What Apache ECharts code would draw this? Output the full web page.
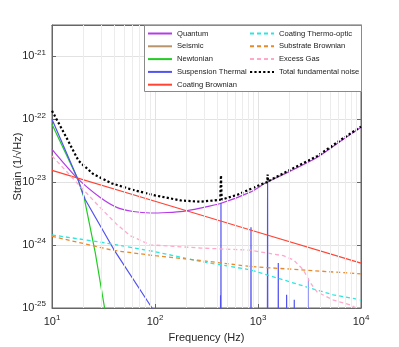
<!DOCTYPE html>
<html><head><meta charset="utf-8">
<script src="https://cdn.jsdelivr.net/npm/echarts@6/dist/echarts.min.js"></script>
<style>html,body{margin:0;padding:0;background:#fff}#c{width:399px;height:347px}</style>
</head><body><div id="c"></div>
<script>
// ---- data ----
const quantumF = [10, 17.7, 29.4, 43, 61.5, 90, 131, 188, 275, 431, 841, 1230, 2057, 3766, 6730, 10000];
const quantumH = [3.34e-23, 1.15e-23, 5.71e-24, 3.95e-24, 3.42e-24, 3.24e-24, 3.30e-24, 3.45e-24, 3.88e-24, 4.58e-24, 6.95e-24, 1.005e-23, 1.50e-23, 2.49e-23, 4.83e-23, 7.50e-23];

const seismicF = [10, 12, 20, 50];
const seismicH = [3e-26, 1e-27, 1e-29, 1e-31];

const newtonianF = [10, 17.7, 20.7, 26.3, 32.4, 39.8];
const newtonianH = [8.38e-23, 1.15e-23, 5.31e-24, 7.57e-25, 1.0e-25, 1.26e-26];

const suspensionF = [10, 17.7, 21, 39.6, 93.5, 158, 300,
  430, 433, 436, 437, 438, 600, 850, 855, 860, 1230, 1239, 1248, 1565, 1574, 1583,
  1885, 1896, 1907, 2240, 2250, 2260, 3040, 3056, 3072, 10000];
const suspensionH = [1.0e-22, 1.15e-23, 5.31e-24, 8.65e-25, 1.0e-25, 2.5e-26, 1e-27,
  1e-27, 1.6e-25, 1e-27, 4.71e-24, 1e-27, 1e-27, 1e-27, 1.92e-24, 1e-27, 1e-27, 9.82e-24, 1e-27, 1e-27, 5.18e-25, 1e-27,
  1e-27, 1.62e-25, 1e-27, 1e-27, 1.35e-25, 1e-27, 1e-27, 2.98e-25, 1e-27, 1e-27];

const coatBrownF = [10, 100, 1000, 10000];
const coatBrownH = [1.54e-23, 4.98e-24, 1.60e-24, 5.18e-25];

const coatThermoF = [10, 29.4, 100.7, 275, 841, 1762, 3221, 5383, 10000];
const coatThermoH = [1.45e-24, 1.12e-24, 7.85e-25, 5.50e-25, 4.05e-25, 2.80e-25, 2.07e-25, 1.62e-25, 1.34e-25];

const substrateF = [10, 39.6, 100.7, 275, 841, 2576, 10000];
const substrateH = [1.38e-24, 8.22e-25, 6.78e-25, 5.70e-25, 4.57e-25, 4.05e-25, 3.49e-25];

const gasF = [10, 13.5, 18.8, 29.4, 42.8, 57.5, 90, 275, 841, 1762, 2203, 2754, 3221, 3741, 5383, 7870, 9419, 10000];
const gasH = [2.61e-23, 1.55e-23, 8.57e-24, 3.95e-24, 2.12e-24, 1.41e-24, 1.01e-24, 8.99e-25, 8.30e-25, 6.78e-25, 5.85e-25, 4.05e-25, 2.51e-25, 1.80e-25, 1.34e-25, 1.12e-25, 9.6e-26, 8.9e-26];

const totalF = [10, 13.5, 18.1, 25.1, 38.3, 60.3, 100, 178, 275, 430, 437, 444, 631, 1052, 1230, 1239, 1248, 2056, 3767, 6730, 10000];
const totalH = [1.37e-22, 5.50e-23, 2.19e-23, 1.35e-23, 9.55e-24, 7.59e-24, 6.17e-24, 5.13e-24, 4.90e-24, 5.25e-24, 1.285e-23, 5.30e-24, 6.31e-24, 9.12e-24, 1.01e-23, 1.33e-23, 1.03e-23, 1.585e-23, 2.60e-23, 5.01e-23, 7.67e-23];

const legendLeft = ['Quantum', 'Seismic', 'Newtonian', 'Suspension Thermal', 'Coating Brownian'];
const legendRight = ['Coating Thermo-optic', 'Substrate Brownian', 'Excess Gas', 'Total fundamental noise'];

// ---- build ----
const zip = (f, h) => f.map((v, i) => [v, h[i]]);
const FONT = 'Liberation Sans, Arial, sans-serif';

const xMinor = [], yMinor = [];
[10, 100, 1000].forEach(d => { for (let k = 2; k <= 9; k++) xMinor.push(k * d); });
[1e-25, 1e-24, 1e-23, 1e-22, 1e-21].forEach(d => { for (let k = 2; k <= 9; k++) { const v = k * d; if (v < 3.16e-21) yMinor.push(v); } });

function line(name, data, color, extra) {
  return Object.assign({
    name, type: 'line', data, symbol: 'none', showSymbol: false, z: 3, clip: true,
    lineStyle: { color, width: 1.2 }, itemStyle: { color }
  }, extra || {});
}

const expLabel = v => '{b|10}{s|' + Math.round(Math.log10(v)) + '}';
const rich = {
  b: { fontSize: 11, fontFamily: FONT, color: '#262626' },
  s: { fontSize: 8, fontFamily: FONT, color: '#262626', padding: [0, 0, 8, 0] }
};
const axisCol = '#666';
const legendCommon = {
  orient: 'vertical', top: 29, padding: 0, z: 10,
  itemWidth: 24, itemHeight: 9, itemGap: 3.8,
  itemStyle: { opacity: 0 },
  textStyle: { fontSize: 7.6, fontFamily: FONT, color: '#1a1a1a', lineHeight: 9 }
};

const chart = echarts.init(document.getElementById('c'), null, { renderer: 'canvas' });
chart.setOption({
  animation: false,
  backgroundColor: '#fff',
  grid: { left: 52, right: 38, top: 25, bottom: 39, containLabel: false, outerBoundsMode: 'none',
    show: true, borderColor: axisCol, borderWidth: 1, backgroundColor: 'transparent' },
  xAxis: [
    { type: 'log', logBase: 10, min: 10, max: 10000, position: 'bottom',
      name: 'Frequency (Hz)', nameLocation: 'middle', nameGap: 22,
      nameTextStyle: { fontSize: 11, fontFamily: FONT, color: '#262626' },
      axisLine: { show: true, onZero: false, lineStyle: { color: axisCol, width: 1 } },
      axisTick: { show: true, inside: true, length: 4, lineStyle: { color: axisCol } },
      axisLabel: { formatter: expLabel, rich, margin: 6, showMinLabel: true, showMaxLabel: true },
      splitLine: { show: true, lineStyle: { color: '#e2e2e2', width: 1 } } },
    { type: 'log', logBase: 10, min: 10, max: 10000, position: 'top',
      axisLine: { show: true, onZero: false, lineStyle: { color: axisCol, width: 1 } },
      axisTick: { show: true, inside: true, length: 4, lineStyle: { color: axisCol } },
      axisLabel: { show: false }, splitLine: { show: false } }
  ],
  yAxis: [
    { type: 'log', logBase: 10, min: 0.9999e-25, max: 3.1623e-21, position: 'left',
      name: 'Strain (1/√Hz)', nameLocation: 'middle', nameGap: 29, nameMoveOverlap: false,
      nameTextStyle: { fontSize: 11, fontFamily: FONT, color: '#262626' },
      axisLine: { show: true, onZero: false, lineStyle: { color: axisCol, width: 1 } },
      axisTick: { show: true, inside: true, length: 4, lineStyle: { color: axisCol } },
      axisLabel: { formatter: expLabel, rich, margin: 6, showMinLabel: false, showMaxLabel: false, hideOverlap: false },
      splitLine: { show: true, lineStyle: { color: '#e2e2e2', width: 1 } } },
    { type: 'log', logBase: 10, min: 0.9999e-25, max: 3.1623e-21, position: 'right',
      axisLine: { show: true, onZero: false, lineStyle: { color: axisCol, width: 1 } },
      axisTick: { show: true, inside: true, length: 4, lineStyle: { color: axisCol } },
      axisLabel: { show: false }, splitLine: { show: false } }
  ],
  graphic: [{
    type: 'rect', z: 8, left: 144, top: 25,
    shape: { width: 217, height: 66 },
    style: { fill: '#fff', stroke: '#8a8a8a', lineWidth: 1 }
  }],
  legend: [
    Object.assign({ data: legendLeft, left: 147 }, legendCommon),
    Object.assign({ data: legendRight, left: 249 }, legendCommon)
  ],
  series: [
    { type: 'line', name: '_grid', data: [], z: 1, silent: true,
      markLine: { silent: true, symbol: ['none', 'none'], label: { show: false }, animation: false,
        lineStyle: { color: '#ececec', width: 1, type: 'solid' },
        data: xMinor.map(v => ({ xAxis: v })).concat(yMinor.map(v => ({ yAxis: v }))) } },
    line('Quantum', zip(quantumF, quantumH), '#b43ce6', { smooth: 0.25 }),
    line('Seismic', zip(seismicF, seismicH), '#b8946a'),
    line('Newtonian', zip(newtonianF, newtonianH), '#22cc22'),
    line('Suspension Thermal', zip(suspensionF, suspensionH), '#5252f2'),
    line('Coating Brownian', zip(coatBrownF, coatBrownH), '#ff4433'),
    line('Coating Thermo-optic', zip(coatThermoF, coatThermoH), '#2ee6df', { lineStyle: { color: '#2ee6df', width: 1.3, type: [4, 3] } }),
    line('Substrate Brownian', zip(substrateF, substrateH), '#e8892a', { lineStyle: { color: '#e8892a', width: 1.3, type: [4, 3] } }),
    line('Excess Gas', zip(gasF, gasH), '#ffa8cc', { lineStyle: { color: '#ffa8cc', width: 1.3, type: [4, 3] } }),
    line('Total fundamental noise', zip(totalF, totalH), '#000', { z: 4, lineStyle: { color: '#000', width: 2.2, type: [2.2, 2.2] } })
  ]
});
</script></body></html>
